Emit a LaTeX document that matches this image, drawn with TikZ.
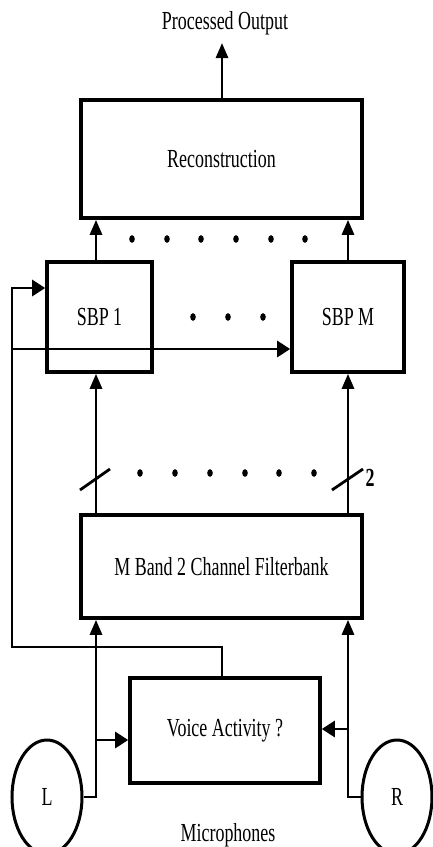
\documentclass[tikz,border=0pt]{standalone}
\usepackage{fontspec}
\setmainfont[FakeStretch=0.69]{Liberation Serif}
\usetikzlibrary{arrows.meta,shapes.geometric}
\begin{document}
\begin{tikzpicture}[x=1pt,y=-1pt,
  every node/.style={font=\fontsize{26}{30}\selectfont},
  blk/.style={draw,line width=3.6pt,inner sep=0pt,rectangle},
  mic/.style={draw,line width=3pt,ellipse,inner sep=0pt,minimum width=70pt,minimum height=114pt},
  conn/.style={line width=2.8pt},
  varr/.style={conn,-{Triangle[length=15pt,width=12pt]}},
  harr/.style={conn,-{Triangle[length=13pt,width=16pt]}},
  dotc/.style={fill=black,draw=none},
]
\useasboundingbox (0,0) rectangle (433,847);
% columns
\coordinate (colL) at (96,0);
\coordinate (colR) at (348,0);
\coordinate (colF) at (12,0);
% blocks
\node[blk,minimum width=281pt,minimum height=118pt] (recon) at (221.5,159) {Reconstruction};
\node[blk,minimum width=105pt,minimum height=110pt] (sbp1) at (99.5,317) {SBP 1};
\node[blk,minimum width=112pt,minimum height=110pt] (sbpm) at (348,317) {SBP M};
\node[blk,minimum width=281pt,minimum height=103pt] (fb) at (221.5,566.5) {M Band 2 Channel Filterbank};
\node[blk,minimum width=190pt,minimum height=105pt] (va) at (225,730.5) {Voice Activity ?};
\node[mic] (L) at (47,797) {L};
\node[mic] (R) at (397,797) {R};
\node (out) at (225,23) {Processed Output};
\node (mics) at (228,835) {Microphones};
\node[font=\fontsize{26}{30}\selectfont\bfseries] (two) at (370,478) {2};
% output
\draw[varr] (recon.north -| out) ++(-3,0) coordinate (ro) -- (ro |- 0,43) coordinate (outtip);
% SBP -> reconstruction
\draw[varr] (sbp1.north -| colL) -- (recon.south -| colL);
\draw[varr] (sbpm.north -| colR) -- (recon.south -| colR);
% filterbank -> SBP
\draw[varr] (fb.north -| colL) -- (sbp1.south -| colL);
\draw[varr] (fb.north -| colR) -- (sbpm.south -| colR);
% microphones -> filterbank
\coordinate (Lj) at (96,797);
\coordinate (Rj) at (348,797);
\coordinate (Lb) at (96,740);
\coordinate (Rb) at (348,729);
\draw[varr] (L.east) -- (Lj) -- (fb.south -| colL);
\draw[varr] (R.west) -- (Rj) -- (fb.south -| colR);
\draw[harr] (Lb) -- (Lb -| va.west);
\draw[harr] (Rb) -- (Rb -| va.east);
% feedback from voice activity
\coordinate (f1) at (222,647);
\coordinate (f2) at (12,647);
\coordinate (f3) at (12,288);
\coordinate (f4) at (12,349);
\draw[harr] (va.north -| f1) -- (f1) -- (f2) -- (f3) -- (f3 -| sbp1.west);
\draw[harr] (f4) -- (f4 -| sbpm.west);
% slashes
\draw[conn] (80,490) -- (110,469);
\draw[conn] (332,490) -- (363,469);
% dots
\foreach \x in {132,167,201,236,271,305} \fill[dotc] (\x,239) ellipse (2.8pt and 3.8pt);
\foreach \x in {193,228,263} \fill[dotc] (\x,317) ellipse (2.8pt and 3.8pt);
\foreach \x in {140,175,210,245,279,314} \fill[dotc] (\x,473) ellipse (2.8pt and 3.8pt);
\end{tikzpicture}
\end{document}
